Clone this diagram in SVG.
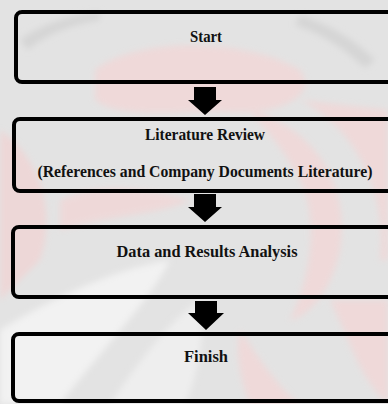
<svg xmlns="http://www.w3.org/2000/svg" width="388" height="404" viewBox="0 0 388 404">
  <style>
    .box { fill: none; stroke: #000; stroke-width: 4; }
    .label { font-family: "Liberation Serif", "Times New Roman", serif; font-weight: bold; font-size: 16px; fill: #111; text-anchor: middle; }
    .arrow { fill: #000; }
  </style>
  <defs>
    <filter id="soft" x="-20%" y="-20%" width="140%" height="140%">
      <feGaussianBlur stdDeviation="3"/>
    </filter>
  </defs>

  <!-- faint emblem in the background -->
  <g id="backdrop">
    <rect x="0" y="0" width="388" height="404" fill="#e3e3e3"/>
    <g filter="url(#soft)" opacity="0.75">
      <path d="M95 70 C140 35 250 40 300 70 C320 95 280 115 230 112 C180 110 120 120 95 100 Z" fill="#f3d6d6"/>
      <path d="M300 100 C360 130 388 200 380 260 L388 260 L388 110 Z" fill="#f3d6d6"/>
      <path d="M250 110 C320 130 350 190 340 250 C330 300 300 320 290 320 C310 280 320 220 300 180 C285 150 265 130 250 110 Z" fill="#f3d6d6"/>
      <path d="M0 130 C30 150 60 200 40 260 L0 300 Z" fill="#f1d3d3"/>
      <path d="M60 200 C100 180 150 190 190 200 C160 215 110 215 60 230 Z" fill="#f2d5d5"/>
      <path d="M330 300 C350 340 360 380 388 404 L388 300 Z" fill="#f3d6d6"/>
      <path d="M240 330 C260 360 280 390 300 404 L250 404 C240 380 235 350 240 330 Z" fill="#f3d6d6"/>
    </g>
    <g filter="url(#soft)">
      <path d="M0 404 L0 330 C50 300 110 270 170 260 C150 300 110 340 60 404 Z" fill="#f2f2f2"/>
      <path d="M110 404 C140 360 170 320 200 300 C205 330 200 370 185 404 Z" fill="#eeeeee"/>
      <path d="M20 40 C40 25 70 15 100 12 L100 20 C70 25 45 35 28 50 Z" fill="#d5d5d5"/>
      <path d="M300 15 C330 25 355 40 375 60 L365 68 C345 50 325 35 295 25 Z" fill="#d5d5d5"/>
    </g>
  </g>

  <!-- process steps -->
  <g id="start">
    <rect class="box" x="16" y="12" width="384" height="70" rx="6"/>
    <text class="label" x="206" y="42" textLength="32" lengthAdjust="spacingAndGlyphs">Start</text>
  </g>
  <g id="literature-review">
    <rect class="box" x="14" y="119" width="386" height="72" rx="6"/>
    <text class="label" x="205" y="140" textLength="120" lengthAdjust="spacingAndGlyphs">Literature Review</text>
    <text class="label" x="205" y="177" textLength="335" lengthAdjust="spacingAndGlyphs">(References and Company Documents Literature)</text>
  </g>
  <g id="analysis">
    <rect class="box" x="13" y="227" width="387" height="70" rx="6"/>
    <text class="label" x="207" y="257" textLength="181" lengthAdjust="spacingAndGlyphs">Data and Results Analysis</text>
  </g>
  <g id="finish">
    <rect class="box" x="13" y="334" width="387" height="67" rx="6"/>
    <text class="label" x="206" y="362" textLength="44" lengthAdjust="spacingAndGlyphs">Finish</text>
  </g>

  <!-- block arrows between steps -->
  <g id="connectors">
    <polygon class="arrow" points="194,87 216,87 216,100 222,100 205,115 188,100 194,100"/>
    <polygon class="arrow" points="194,194 216,194 216,207 222,207 205,222 188,207 194,207"/>
    <polygon class="arrow" points="195,301 217,301 217,313 224,313 206,330 188,313 195,313"/>
  </g>
</svg>
